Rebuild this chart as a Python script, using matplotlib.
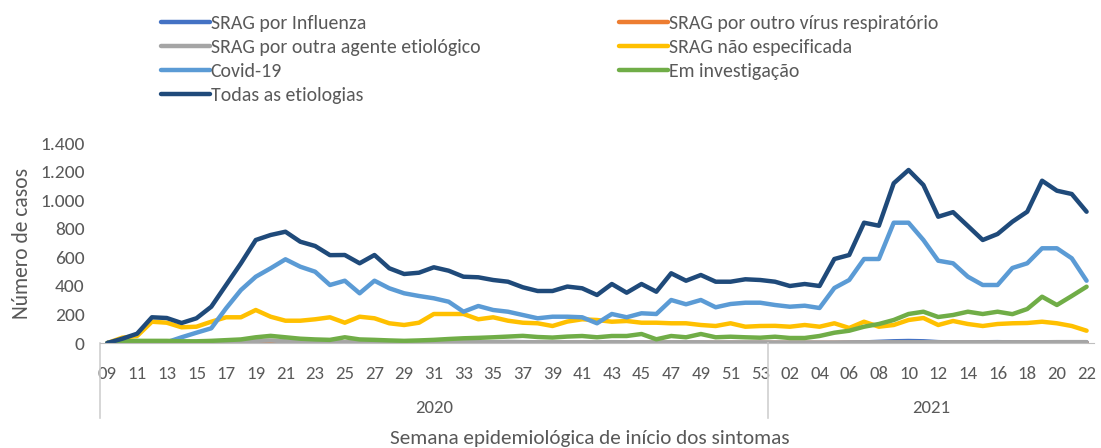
import matplotlib
matplotlib.use("Agg")
import matplotlib.pyplot as plt
import matplotlib.transforms as mtransforms
from matplotlib.ticker import FuncFormatter, MultipleLocator

plt.rcParams['font.family'] = ['Carlito', 'Liberation Sans Narrow', 'Liberation Sans', 'DejaVu Sans']
txt = '#595959'

# semanas epidemiologicas: 2020 (09-53) e 2021 (01-22)
weeks_2020 = list(range(9, 54))
weeks_2021 = list(range(1, 23))
week_labels = ['%02d' % w for w in weeks_2020 + weeks_2021]
years = ['2020', '2021']

influenza = [0, 0, 0, 0, 0, 0, 0, 0, 0, 0, 0, 0, 0, 0, 0, 0,
             0, 0, 0, 0, 0, 0, 0, 0, 0, 0, 0, 0, 0, 0, 0, 0,
             0, 0, 0, 0, 0, 0, 0, 0, 0, 0, 0, 0, 0, 0,
             0, 0, 0, 0, 2, 4, 8, 12, 14, 12, 6, 3, 3, 5, 6, 4, 2, 2, 2, 3, 4]
outro_virus = [0, 0, 0, 0, 0, 0, 0, 0, 1, 1, 2, 2, 1, 1, 1, 1,
               1, 1, 1, 1, 1, 1, 1, 1, 1, 1, 1, 1, 1, 1, 1, 1,
               1, 1, 1, 1, 1, 1, 1, 1, 1, 1, 1, 1, 1, 1,
               1, 1, 1, 1, 1, 1, 1, 1, 1, 1, 1, 1, 1, 1, 1, 1, 1, 1, 1, 1, 1]
outra_agente = [0, 0, 2, 3, 3, 2, 3, 5, 8, 10, 15, 18, 12, 8, 6, 5,
                5, 5, 5, 4, 4, 4, 5, 5, 5, 6, 6, 8, 6, 5, 5, 5,
                5, 5, 6, 5, 5, 4, 5, 5, 5, 4, 4, 4, 4, 3,
                3, 3, 3, 3, 4, 5, 5, 5, 5, 5, 5, 5, 5, 5, 5, 5, 5, 5, 6, 6, 6]
nao_especificada = [0, 37, 49, 149, 142, 110, 114, 149, 180, 180, 231, 184, 156, 156, 166, 180,
                    142, 184, 173, 138, 126, 142, 203, 203, 203, 166, 180, 156, 142, 138, 119, 150,
                    166, 161, 149, 154, 142, 142, 138, 138, 126, 119, 138, 114, 119, 120,
                    114, 126, 114, 138, 105, 149, 114, 126, 161, 175, 126, 154, 133, 119, 133, 138,
                    140, 149, 138, 119, 86]
covid = [0, 0, 0, 0, 5, 40, 72, 103, 243, 371, 464, 523, 586, 534, 499, 406,
         436, 348, 436, 383, 348, 329, 313, 289, 219, 259, 231, 219, 196, 173, 184, 184,
         180, 138, 203, 180, 208, 203, 301, 271, 301, 250, 273, 282, 282, 266,
         254, 261, 245, 385, 441, 588, 588, 842, 842, 721, 576, 558, 464, 406, 406, 525,
         558, 663, 663, 593, 436]
investigacao = [0, 10, 15, 15, 15, 12, 12, 15, 20, 25, 40, 50, 40, 30, 25, 22,
                40, 25, 22, 18, 15, 18, 22, 28, 33, 36, 40, 45, 50, 42, 38, 45,
                49, 40, 49, 49, 63, 26, 49, 40, 63, 40, 44, 40, 37, 44,
                35, 35, 49, 72, 86, 114, 133, 161, 203, 219, 182, 196, 219, 203, 219, 202,
                238, 324, 266, 329, 394]
todas = [0, 30, 65, 180, 175, 140, 173, 254, 406, 558, 721, 756, 779, 709, 679, 615,
         616, 558, 616, 523, 483, 492, 530, 506, 464, 460, 441, 429, 390, 364, 364, 395,
         383, 336, 413, 352, 413, 359, 488, 436, 476, 429, 429, 446, 441, 429,
         399, 413, 399, 588, 616, 842, 821, 1118, 1211, 1106, 884, 916, 819, 721, 763, 849,
         919, 1136, 1066, 1043, 919]

series = [
    ('SRAG por Influenza', influenza, '#4472C4'),
    ('SRAG por outro vírus respiratório', outro_virus, '#ED7D31'),
    ('SRAG por outra agente etiológico', outra_agente, '#A5A5A5'),
    ('SRAG não especificada', nao_especificada, '#FFC000'),
    ('Covid-19', covid, '#5B9BD5'),
    ('Em investigação', investigacao, '#70AD47'),
    ('Todas as etiologias', todas, '#1F4A7A'),
]

fig = plt.figure(figsize=(11.01, 4.48), dpi=100)
ax = fig.add_axes([100 / 1101, 105 / 448, 994 / 1101, 200 / 448])

x = list(range(len(week_labels)))
handles = {}
for name, vals, col in series:
    ln, = ax.plot(x, vals, color=col, lw=3.2, solid_capstyle='round', solid_joinstyle='round', label=name)
    handles[name] = ln

ax.set_xlim(-0.5, len(x) - 0.5)
ax.set_ylim(0, 1400)
ax.yaxis.set_major_locator(MultipleLocator(200))
ax.yaxis.set_major_formatter(FuncFormatter(lambda v, p: f'{int(v):,}'.replace(',', '.')))
ax.set_xticks(x[::2])
ax.set_xticklabels(week_labels[::2])
ax.tick_params(axis='x', length=0, pad=16.5, labelsize=13.5, labelcolor=txt)
ax.tick_params(axis='y', length=0, pad=11, labelsize=14, labelcolor=txt)
for s in ['top', 'right', 'left']:
    ax.spines[s].set_visible(False)
ax.spines['bottom'].set_color('#BFBFBF')
ax.set_ylabel('Número de casos', fontsize=15.5, color=txt, labelpad=6)

# segundo nivel do eixo: anos
n20 = len(weeks_2020)
trans = mtransforms.blended_transform_factory(ax.transData, ax.transAxes)
for xs in [-0.5, n20 - 0.5]:
    ax.plot([xs, xs], [0, -0.375], transform=trans, color='#D0D0D0', lw=1.2, clip_on=False)
ax.text((n20 - 1) / 2, -0.325, years[0], transform=trans, ha='center', va='center', fontsize=13.5, color=txt)
ax.text(n20 + (len(weeks_2021) - 1) / 2, -0.325, years[1], transform=trans, ha='center', va='center',
        fontsize=13.5, color=txt)
fig.text(0.536, 0.022, 'Semana epidemiológica de início dos sintomas', ha='center', va='center',
         fontsize=15.3, color=txt)

col1 = ['SRAG por Influenza', 'SRAG por outra agente etiológico', 'Covid-19', 'Todas as etiologias']
col2 = ['SRAG por outro vírus respiratório', 'SRAG não especificada', 'Em investigação']
leg_kw = dict(frameon=False, fontsize=14.3, handlelength=2.45, handletextpad=0.05,
              labelspacing=0.36, labelcolor=txt, borderpad=0, borderaxespad=0)
leg1 = fig.legend([handles[n] for n in col1], col1, loc='upper left',
                  bbox_to_anchor=(161 / 1101, 1 - 14.5 / 448), **leg_kw)
fig.legend([handles[n] for n in col2], col2, loc='upper left',
           bbox_to_anchor=(619 / 1101, 1 - 14.5 / 448), **leg_kw)

fig.savefig('out.png', dpi=100)
